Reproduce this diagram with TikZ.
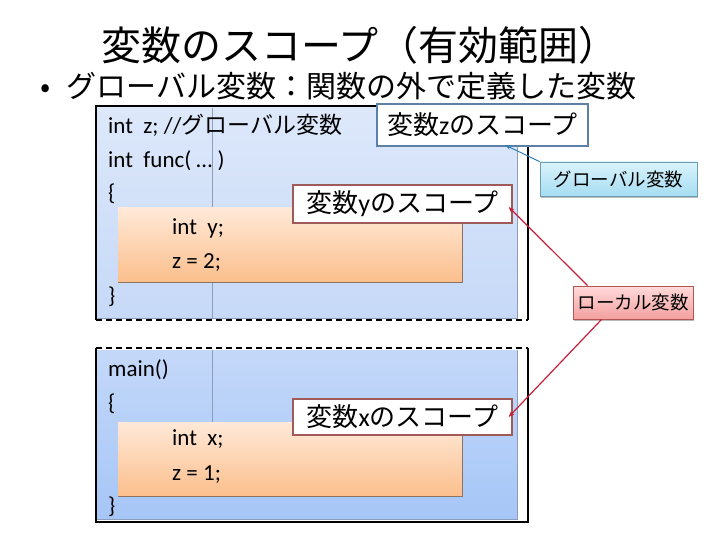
\documentclass[tikz,border=0pt]{standalone}
\usepackage{fontspec}
\setmainfont{Carlito}
\newfontfamily\jp{Noto Sans CJK JP}
\usetikzlibrary{arrows.meta,shadows}
\definecolor{bAtop}{HTML}{DDE8FA}
\definecolor{bAbot}{HTML}{C6D9F8}
\definecolor{bBtop}{HTML}{C4D8F9}
\definecolor{bBbot}{HTML}{A6C6F7}
\definecolor{ortop}{HTML}{FFE9D8}
\definecolor{orbot}{HTML}{FBBF8C}
\definecolor{orline}{HTML}{8E7460}
\definecolor{gltop}{HTML}{DAF3FC}
\definecolor{glbot}{HTML}{A6DDF2}
\definecolor{glline}{HTML}{6E9DB3}
\definecolor{lctop}{HTML}{FFDADA}
\definecolor{lcbot}{HTML}{F4A0A0}
\definecolor{lcline}{HTML}{B25555}
\definecolor{zline}{HTML}{5F80A6}
\definecolor{yline}{HTML}{A05A5A}
\definecolor{arrred}{HTML}{C8203A}
\definecolor{arrblue}{HTML}{3380B5}
\definecolor{gridl}{HTML}{8C9EB8}
\tikzset{
  codetext/.style={anchor=base west, inner sep=0pt, font=\fontsize{23}{23}\selectfont},
  scopelab/.style={draw=#1, line width=1.3pt, fill=white, inner sep=0pt, font=\fontsize{26}{26}\selectfont\jp},
  smalllab/.style={inner sep=0pt, font=\fontsize{18.5}{18.5}\selectfont\jp, drop shadow={shadow xshift=0.6pt, shadow yshift=-1.8pt, opacity=0.45, fill=black!60}},
  redarrow/.style={draw=arrred, line width=1.2pt, -{Stealth[length=6pt,width=4.5pt]}},
  bluearrow/.style={draw=arrblue, line width=1pt, -{Stealth[length=6pt,width=4.5pt]}},
  frameline/.style={line width=1.6pt, black},
}
\begin{document}
\begin{tikzpicture}[x=1pt,y=-1pt]
\useasboundingbox (0,0) rectangle (720,540);
\fill[white] (0,0) rectangle (720,540);
% titles
\node[inner sep=0pt, font=\fontsize{40}{40}\selectfont\jp] (title) at (360,45) {変数のスコープ（有効範囲）};
\node[anchor=base west, inner sep=0pt, font=\fontsize{30}{30}\selectfont\jp] (bullet) at (40,98) {•\hspace{16pt}グローバル変数：関数の外で定義した変数};
% block 1
\fill[top color=bAtop, bottom color=bAbot] (97,108) rectangle (517,318);
\draw[gridl, line width=0.6pt] (517,108) -- (517,318) -- (97,318);
\draw[gridl, line width=0.6pt] (212,108) -- (212,318);
\shade[top color=ortop, bottom color=orbot] (118,208) rectangle (462,282);
\draw[orline, line width=0.8pt] (118,282) -- (462,282) -- (462,208);
\draw[frameline] (96,320) -- (96,106) -- (528,106) -- (528,320);
\draw[frameline, dashed, dash pattern=on 6pt off 4pt] (96,320) -- (528,320);
% block 2
\fill[top color=bBtop, bottom color=bBbot] (97,350) rectangle (517,519);
\draw[gridl, line width=0.6pt] (517,350) -- (517,519) -- (97,519);
\draw[gridl, line width=0.6pt] (212,350) -- (212,422);
\shade[top color=ortop, bottom color=orbot] (118,422) rectangle (462,496);
\draw[orline, line width=0.8pt] (118,496) -- (462,496) -- (462,422);
\draw[frameline] (96,348) -- (96,522) -- (528,522) -- (528,348);
\draw[frameline, dashed, dash pattern=on 6pt off 4pt] (96,348) -- (528,348);
% code
\node[codetext] (c1) at (108,134) {int\ \ z; //{\jp グローバル変数}};
\node[codetext] (c2) at (108,168) {int\ \ func( … )};
\node[codetext] (c3) at (108,201) {\{};
\node[codetext] (c4) at (172,234) {int\ \ y;};
\node[codetext] (c5) at (172,268) {z = 2;};
\node[codetext] (c6) at (108,303) {\}};
\node[codetext] (d1) at (108,376) {main()};
\node[codetext] (d2) at (108,410) {\{};
\node[codetext] (d3) at (172,445) {int\ \ x;};
\node[codetext] (d4) at (172,480) {z = 1;};
\node[codetext] (d5) at (108,513) {\}};
% scope labels
\node[scopelab=zline, minimum width=211pt, minimum height=42pt] (zlab) at (482.5,125) {変数{\rmfamily z}のスコープ};
\node[scopelab=yline, minimum width=219pt, minimum height=38pt] (ylab) at (402.5,204) {変数{\rmfamily y}のスコープ};
\node[scopelab=yline, minimum width=219pt, minimum height=36pt] (xlab) at (402.5,417) {変数{\rmfamily x}のスコープ};
% side labels
\node[smalllab, top color=gltop, bottom color=glbot, draw=glline, line width=0.8pt, minimum width=157pt, minimum height=34pt] (glob) at (618.5,179) {グローバル変数};
\node[smalllab, top color=lctop, bottom color=lcbot, draw=lcline, line width=0.8pt, minimum width=120pt, minimum height=33pt] (loc) at (633,302.5) {ローカル変数};
% arrows
\coordinate (zend) at (505,145);
\coordinate (locA) at ([xshift=15pt]loc.north west);
\coordinate (locB) at ([xshift=29pt]loc.south west);
\draw[bluearrow] (glob.north west) -- (zend);
\draw[redarrow] (locA) -- ([xshift=-4pt,yshift=-3pt]ylab.east);
\draw[redarrow] (locB) -- ([xshift=-4pt]xlab.east);
\end{tikzpicture}
\end{document}
